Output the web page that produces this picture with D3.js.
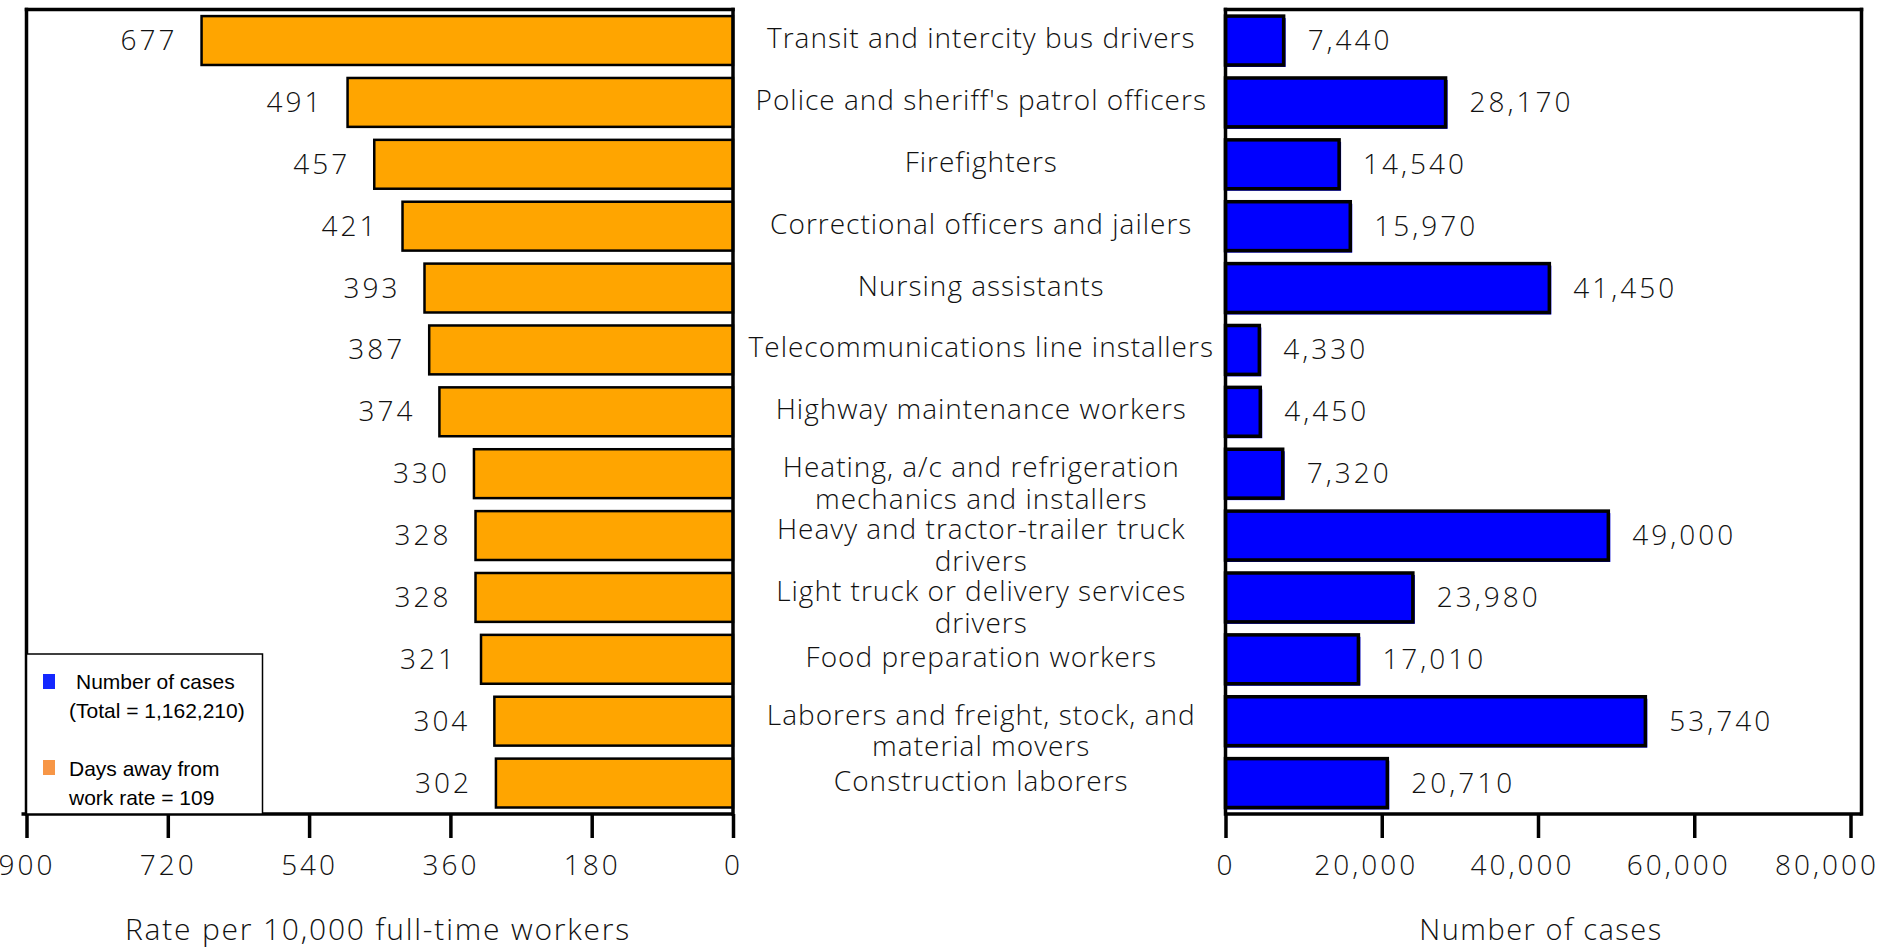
<!DOCTYPE html>
<html>
<head>
<meta charset="utf-8">
<script src="https://cdn.jsdelivr.net/npm/d3@7"></script>
<style>
  html, body { margin: 0; padding: 0; background: #fff; }
  svg { display: block; }
  .lbl { font-family: "Open Sans", "Liberation Sans", sans-serif; font-weight: 300; fill: #111; }
  .leg { font-family: "Liberation Sans", sans-serif; fill: #000; }
</style>
</head>
<body>
<svg id="chart" width="1888" height="948"></svg>
<script>
// ---- data ----
const categories = [
  "Transit and intercity bus drivers",
  "Police and sheriff's patrol officers",
  "Firefighters",
  "Correctional officers and jailers",
  "Nursing assistants",
  "Telecommunications line installers",
  "Highway maintenance workers",
  "Heating, a/c and refrigeration\nmechanics and installers",
  "Heavy and tractor-trailer truck\ndrivers",
  "Light truck or delivery services\ndrivers",
  "Food preparation workers",
  "Laborers and freight, stock, and\nmaterial movers",
  "Construction laborers"
];
const rates = [677, 491, 457, 421, 393, 387, 374, 330, 328, 328, 321, 304, 302];
const cases = [7440, 28170, 14540, 15970, 41450, 4330, 4450, 7320, 49000, 23980, 17010, 53740, 20710];
const rateTicks = [900, 720, 540, 360, 180, 0];
const caseTicks = [0, 20000, 40000, 60000, 80000];
const rateTitle = "Rate per 10,000 full-time workers";
const caseTitle = "Number of cases";
const legendCases = ["Number of cases", "(Total = 1,162,210)"];
const legendRate = ["Days away from", "work rate = 109"];

// ---- layout ----
const svg = d3.select("#chart");
const yTop = 9.6, yBottom = 814;
const lw = 3.5;
const xL = d3.scaleLinear().domain([900, 0]).range([26.5, 733]);
const xR = d3.scaleLinear().domain([0, 80000]).range([1225.5, 1850.5]);
const rightEdge = 1861.5;
const y = d3.scaleBand().domain(categories).range([yTop, yBottom]).paddingInner(0.21).paddingOuter(0.105);

const fmt = d3.format(",");
const numSize = 28, numSpacing = 3;

// left bars
svg.append("g").selectAll("rect").data(categories).join("rect")
  .attr("x", (d, i) => xL(rates[i]))
  .attr("y", d => y(d))
  .attr("width", (d, i) => xL(0) - xL(rates[i]))
  .attr("height", y.bandwidth())
  .attr("fill", "#FFA500")
  .attr("stroke", "#000")
  .attr("stroke-width", 2.5);

// left value labels
svg.append("g").selectAll("text").data(categories).join("text")
  .attr("class", "lbl")
  .attr("x", (d, i) => xL(rates[i]) - 24)
  .attr("y", d => y(d) + y.bandwidth() / 2 + 2)
  .attr("text-anchor", "end")
  .attr("dominant-baseline", "middle")
  .style("font-size", numSize + "px")
  .style("letter-spacing", numSpacing + "px")
  .text((d, i) => rates[i]);

// right bars: blue offset shadow then outlined bar
const gR = svg.append("g");
gR.selectAll("rect.sh").data(categories).join("rect")
  .attr("class", "sh")
  .attr("x", xR(0))
  .attr("y", d => y(d) + 2)
  .attr("width", (d, i) => xR(cases[i]) - xR(0) + 2)
  .attr("height", y.bandwidth())
  .attr("fill", "#0000FF");
gR.selectAll("rect.bar").data(categories).join("rect")
  .attr("class", "bar")
  .attr("x", xR(0))
  .attr("y", d => y(d))
  .attr("width", (d, i) => xR(cases[i]) - xR(0))
  .attr("height", y.bandwidth())
  .attr("fill", "#0000FF")
  .attr("stroke", "#000")
  .attr("stroke-width", 3.5);

// right value labels
svg.append("g").selectAll("text").data(categories).join("text")
  .attr("class", "lbl")
  .attr("x", (d, i) => xR(cases[i]) + 24)
  .attr("y", d => y(d) + y.bandwidth() / 2 + 2)
  .attr("text-anchor", "start")
  .attr("dominant-baseline", "middle")
  .style("font-size", numSize + "px")
  .style("letter-spacing", numSpacing + "px")
  .text((d, i) => fmt(cases[i]));

// category labels
const midX = (xL(0) + xR(0)) / 2 + 2;
const lineH = 31.5;
const catG = svg.append("g");
categories.forEach(c => {
  const lines = c.split("\n");
  const cy = y(c) + y.bandwidth() / 2 + (lines.length > 1 ? 12 : 0);
  const t = catG.append("text")
    .attr("class", "lbl")
    .attr("text-anchor", "middle")
    .style("font-size", "28px")
    .style("letter-spacing", "1px");
  lines.forEach((ln, k) => {
    t.append("tspan")
      .attr("x", midX)
      .attr("y", cy + (k - (lines.length - 1) / 2) * lineH)
      .attr("dominant-baseline", "middle")
      .text(ln);
  });
});

// frames
const frame = svg.append("g").attr("stroke", "#000").attr("stroke-width", lw).attr("fill", "none").attr("stroke-linecap", "square");
frame.append("line").attr("x1", xL(900)).attr("x2", xL(0)).attr("y1", yTop).attr("y2", yTop);
frame.append("line").attr("x1", xL(900)).attr("x2", xL(900)).attr("y1", yTop).attr("y2", yBottom);
frame.append("line").attr("x1", xL(0)).attr("x2", xL(0)).attr("y1", yTop).attr("y2", yBottom);
frame.append("line").attr("x1", xR(0)).attr("x2", rightEdge).attr("y1", yTop).attr("y2", yTop);
frame.append("line").attr("x1", xR(0)).attr("x2", xR(0)).attr("y1", yTop).attr("y2", yBottom);
frame.append("line").attr("x1", rightEdge).attr("x2", rightEdge).attr("y1", yTop).attr("y2", yBottom);

// axes
function styleAxis(g) {
  g.select(".domain").remove();
  g.selectAll(".tick line").attr("stroke", "#000").attr("stroke-width", lw);
  g.selectAll(".tick text").attr("class", "lbl")
    .style("font-size", numSize + "px").style("letter-spacing", numSpacing + "px")
    .attr("fill", "#111");
}
const axL = svg.append("g").attr("transform", `translate(0,${yBottom})`)
  .call(d3.axisBottom(xL).tickValues(rateTicks).tickSize(24).tickSizeOuter(0).tickPadding(17).tickFormat(d3.format("d")));
styleAxis(axL);
axL.append("line").attr("x1", xL(900) - 5).attr("x2", xL(0)).attr("stroke", "#000").attr("stroke-width", lw);

const axR = svg.append("g").attr("transform", `translate(0,${yBottom})`)
  .call(d3.axisBottom(xR).tickValues(caseTicks).tickSize(24).tickSizeOuter(0).tickPadding(17).tickFormat(fmt));
styleAxis(axR);
axR.selectAll(".tick text").attr("dx", d => d === 0 ? 0 : (d === 80000 ? -24 : -16));
axR.append("line").attr("x1", xR(0)).attr("x2", rightEdge).attr("stroke", "#000").attr("stroke-width", lw);

// axis titles
svg.append("text").attr("class", "lbl").attr("x", 378).attr("y", 932)
  .attr("text-anchor", "middle").attr("dominant-baseline", "middle")
  .style("font-size", "30px").style("letter-spacing", "1.8px").text(rateTitle);
svg.append("text").attr("class", "lbl").attr("x", 1541).attr("y", 932)
  .attr("text-anchor", "middle").attr("dominant-baseline", "middle")
  .style("font-size", "29px").style("letter-spacing", "1.5px").text(caseTitle);

// legend
const lg = svg.append("g");
lg.append("rect").attr("x", xL(900)).attr("y", 654).attr("width", 236).attr("height", yBottom - 654)
  .attr("fill", "#fff").attr("stroke", "#000").attr("stroke-width", 1.5);
lg.append("rect").attr("x", 43).attr("y", 674).attr("width", 12).attr("height", 15).attr("fill", "#1428FF");
lg.append("rect").attr("x", 43).attr("y", 760).attr("width", 12).attr("height", 15).attr("fill", "#F79646");
lg.append("text").attr("class", "leg").attr("x", 76).attr("y", 689).style("font-size", "21px").text(legendCases[0]);
lg.append("text").attr("class", "leg").attr("x", 69).attr("y", 718).style("font-size", "21px").text(legendCases[1]);
lg.append("text").attr("class", "leg").attr("x", 69).attr("y", 776).style("font-size", "21px").text(legendRate[0]);
lg.append("text").attr("class", "leg").attr("x", 69).attr("y", 805).style("font-size", "21px").text(legendRate[1]);
</script>
</body>
</html>
